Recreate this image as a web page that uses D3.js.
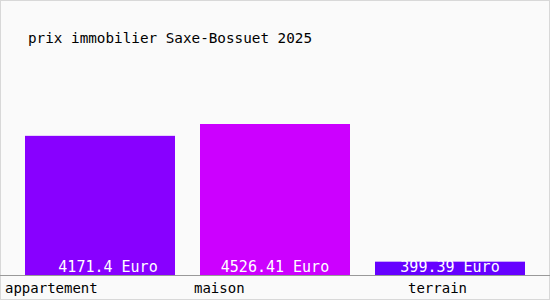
<!DOCTYPE html>
<html>
<head>
<meta charset="utf-8">
<script src="https://cdn.jsdelivr.net/npm/d3@7"></script>
<style>
    body { margin: 0; background: #fff; }
    svg text { font-family: "DejaVu Sans Mono", "Liberation Mono", monospace; }
</style>
</head>
<body>
<div id="chart"></div>
<script>
// Chart data
var title = "prix immobilier Saxe-Bossuet 2025";
var categories = ["appartement", "maison", "terrain"];
var prices = [4171.4, 4526.41, 399.39];
var valueLabels = ["4171.4 Euro", "4526.41 Euro", "399.39 Euro"];
var colors = ["#8800ff", "#cc00ff", "#6600ff"];

var svgWidth = 550;
var svgHeight = 300;
var baseY = 275;

var svg = d3.select("#chart")
    .append("svg")
    .attr("width", svgWidth)
    .attr("height", svgHeight);

// background + border
svg.append("rect")
    .attr("x", 0.5)
    .attr("y", 0.5)
    .attr("width", svgWidth - 1)
    .attr("height", svgHeight - 1)
    .attr("fill", "#fafafa")
    .attr("stroke", "#d8d8d8");

// scales
var xScale = d3.scaleBand()
    .domain(categories)
    .range([12.5, 537.5])
    .paddingInner(1 / 7)
    .paddingOuter(1 / 14);

var yScale = d3.scaleLinear()
    .domain([0, d3.max(prices)])
    .range([baseY, 124]);

// title
svg.append("text")
    .attr("x", 28)
    .attr("y", 43)
    .attr("font-size", "14.3px")
    .attr("font-weight", 500)
    .attr("fill", "#000")
    .text(title);

// bars
svg.selectAll(".bar")
    .data(prices)
    .enter()
    .append("rect")
    .attr("class", "bar")
    .attr("x", (d, i) => xScale(categories[i]))
    .attr("y", d => yScale(d))
    .attr("width", xScale.bandwidth())
    .attr("height", d => baseY - yScale(d))
    .attr("fill", (d, i) => colors[i]);

// value labels inside the bars
svg.selectAll(".value")
    .data(valueLabels)
    .enter()
    .append("text")
    .attr("class", "value")
    .attr("x", (d, i) => xScale(categories[i]) + xScale.bandwidth() / 2 + (i === 0 ? 8 : 0))
    .attr("y", baseY - 3)
    .attr("text-anchor", "middle")
    .attr("font-size", "15px")
    .attr("fill", "#fff")
    .text(d => d);

// baseline
svg.append("line")
    .attr("x1", 0)
    .attr("x2", svgWidth)
    .attr("y1", baseY + 0.5)
    .attr("y2", baseY + 0.5)
    .attr("stroke", "#999");

// category labels (offsets)
var labelDx = [-20, -6, 33];
svg.selectAll(".cat")
    .data(categories)
    .enter()
    .append("text")
    .attr("class", "cat")
    .attr("x", (d, i) => xScale(d) + labelDx[i])
    .attr("y", 293)
    .attr("font-size", "14px")
    .attr("fill", "#000")
    .text(d => d);
</script>
</body>
</html>
